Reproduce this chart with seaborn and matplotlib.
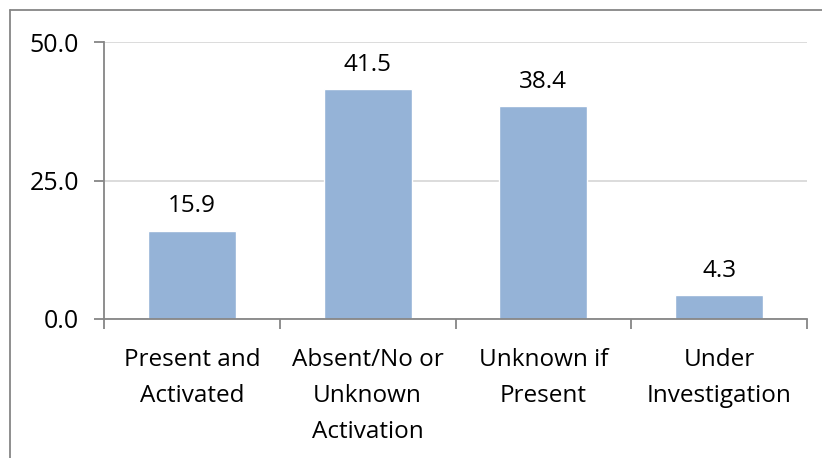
import matplotlib
matplotlib.use("Agg")
import matplotlib.pyplot as plt
import seaborn as sns
import pandas as pd
from matplotlib.lines import Line2D

categories = ["Present and\nActivated", "Absent/No or\nUnknown\nActivation", "Unknown if\nPresent", "Under\nInvestigation"]
values = [15.9, 41.5, 38.4, 4.3]
y_ticks = [0.0, 25.0, 50.0]

sns.set_theme(style="white")
plt.rcParams['font.family'] = ['Open Sans', 'DejaVu Sans']

df = pd.DataFrame({"category": categories, "value": values})

fig = plt.figure(figsize=(8.22, 4.58), dpi=100)
ax = fig.add_axes([104/822, 1-319/458, (807-104)/822, (319-42)/458])

sns.barplot(data=df, x="category", y="value", color="#95B3D7", width=0.5,
            saturation=1, ax=ax, zorder=3)

ax.set_ylim(0, 50)
ax.set_xlim(-0.5, len(categories) - 0.5)
ax.set_yticks(y_ticks)
ax.set_yticklabels([f"{v:.1f}" for v in y_ticks], fontsize=18, color="#000000")
ax.yaxis.grid(True, color="#D9D9D9", linewidth=1.3, zorder=0)
ax.xaxis.grid(False)
ax.set_xlabel("")
ax.set_ylabel("")

ax.set_xticks(range(len(categories)))
ax.set_xticklabels(categories, fontsize=17.5, color="#000000", linespacing=1.65)
ax.set_xticks([i - 0.5 for i in range(len(categories) + 1)], minor=True)
ax.tick_params(axis="x", which="major", length=0, pad=21)
ax.tick_params(axis="x", which="minor", length=7, width=1.3, color="#868686", bottom=True)
ax.tick_params(axis="y", which="major", length=7, width=1.3, color="#868686", pad=11, left=True)

for s in ["top", "right"]:
    ax.spines[s].set_visible(False)
for s in ["left", "bottom"]:
    ax.spines[s].set_color("#868686")
    ax.spines[s].set_linewidth(1.3)
    ax.spines[s].set_zorder(4)

for i, v in enumerate(values):
    ax.annotate(f"{v:.1f}", (i, v), xytext=(0, 9), textcoords="offset points",
                ha="center", va="bottom", fontsize=17.5, color="#000000")

# outer chart border (left and top visible)
fig.add_artist(Line2D([10/822, 10/822], [0, 1-10/458], transform=fig.transFigure,
                      color="#868686", linewidth=1.3))
fig.add_artist(Line2D([10/822, 1], [1-10/458, 1-10/458], transform=fig.transFigure,
                      color="#868686", linewidth=1.3))

fig.savefig("out.png", dpi=100)
